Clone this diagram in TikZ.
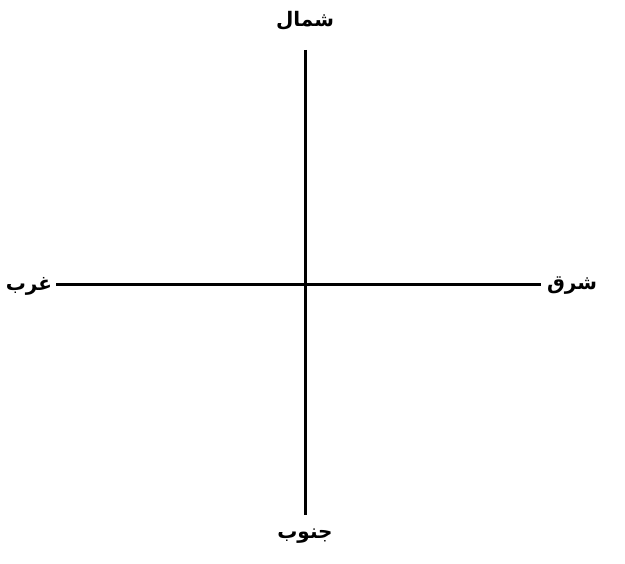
\documentclass[tikz,border=0pt]{standalone}
\usepackage{fontspec}
\newfontfamily\arabicfont[Script=Arabic]{DejaVu Sans}
\TeXXeTstate=1
\begin{document}
\begin{tikzpicture}[x=1pt,y=-1pt,
  axis/.style={line width=3pt,black},
  lbl/.style={font=\arabicfont\bfseries\fontsize{20}{24}\selectfont,inner sep=0pt}]
\useasboundingbox (0,0) rectangle (625,564);
\node[lbl] (n) at (305,21) {\beginR شمال\endR};
\node[lbl] (s) at (305,536) {\beginR جنوب\endR};
\node[lbl] (w) at (29,286) {\beginR غرب\endR};
\node[lbl] (e) at (572,286) {\beginR شرق\endR};
\coordinate (t) at (305,50);
\coordinate (b) at (305,515);
\coordinate (l) at (56,285);
\coordinate (r) at (541,285);
\draw[axis] (t) -- (b);
\draw[axis] (l) -- (r);
\end{tikzpicture}
\end{document}
